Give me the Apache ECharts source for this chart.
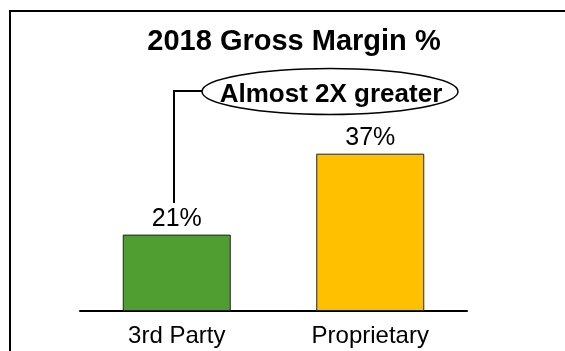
<!DOCTYPE html>
<html>
<head>
<meta charset="utf-8">
<script src="https://cdn.jsdelivr.net/npm/echarts@6/dist/echarts.min.js"></script>
<style>html,body{margin:0;padding:0;background:#fff;}#c{width:565px;height:351px;}</style>
</head>
<body>
<div id="c"></div>
<script>
var categories = ['3rd Party', 'Proprietary'];
var values = [21, 37];
var barColors = ['#509E32', '#FFC000'];
var titleText = '2018 Gross Margin %';
var calloutText = 'Almost 2X greater';

var FONT = '"Liberation Sans", Arial, sans-serif';
var chart = echarts.init(document.getElementById('c'), null, {renderer: 'canvas'});
chart.setOption({
  animation: false,
  backgroundColor: '#ffffff',
  grid: {left: 80, right: 98, top: 138.5, bottom: 40.5},
  xAxis: {
    type: 'category',
    data: categories,
    axisLine: {show: true, lineStyle: {color: '#000', width: 2}},
    axisTick: {show: false},
    axisLabel: {color: '#000', fontSize: 24, fontFamily: FONT, margin: 14}
  },
  yAxis: {
    type: 'value', min: 6, max: 40,
    show: false, splitLine: {show: false}
  },
  series: [{
    type: 'bar',
    barWidth: 108,
    data: values.map(function (v, i) {
      return {value: v, itemStyle: {color: barColors[i]}};
    }),
    itemStyle: {borderColor: '#222', borderWidth: 1},
    label: {
      show: true, position: 'top', distance: 3,
      formatter: function (p) { return p.value + '%'; },
      color: '#000', fontSize: 25, fontFamily: FONT
    }
  }],
  graphic: [
    {type: 'rect', shape: {x: 10, y: 11, width: 700, height: 500}, style: {fill: 'none', stroke: '#000', lineWidth: 2}, z: 10},
    {type: 'text', x: 294, y: 42, style: {text: titleText, fill: '#000', font: 'bold 29px ' + FONT, textAlign: 'center', textVerticalAlign: 'middle'}},
    {type: 'polyline', shape: {points: [[203, 91], [174, 91], [174, 203]]}, style: {stroke: '#000', lineWidth: 2, fill: 'none'}},
    {type: 'ellipse', shape: {cx: 330, cy: 91.5, rx: 128, ry: 23}, style: {fill: '#fff', stroke: '#000', lineWidth: 1.5}},
    {type: 'text', x: 331, y: 95, style: {text: calloutText, fill: '#000', font: 'bold 26px ' + FONT, textAlign: 'center', textVerticalAlign: 'middle'}}
  ]
});
</script>
</body>
</html>
